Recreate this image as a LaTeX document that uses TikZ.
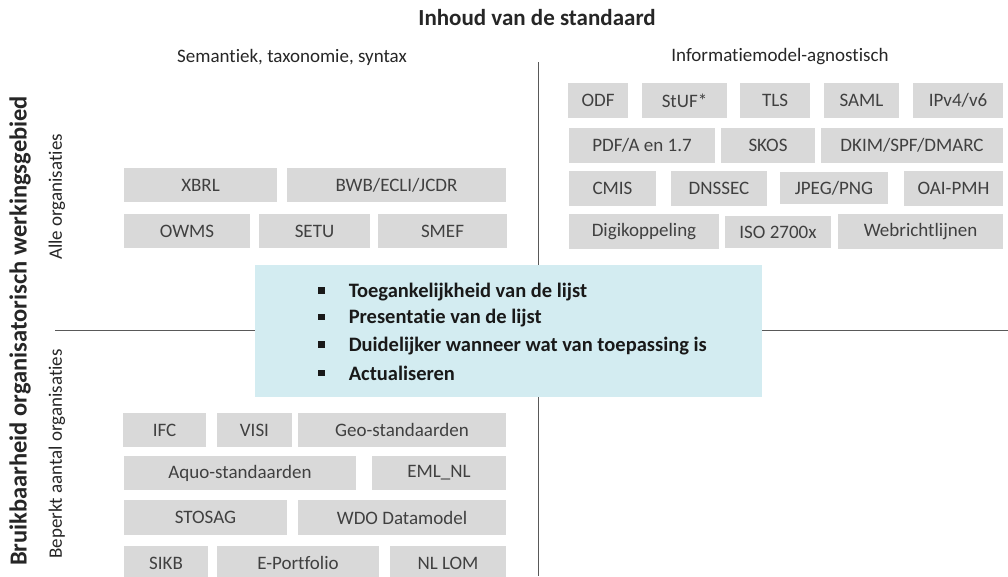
\documentclass[tikz,border=0pt]{standalone}
\usepackage{fontspec}
\setmainfont{Carlito}[Ligatures={NoCommon,NoDiscretionary,NoContextual}]
\definecolor{boxgray}{HTML}{D9D9D9}
\definecolor{boxtext}{HTML}{404040}
\definecolor{headtext}{HTML}{262626}
\definecolor{lightblue}{HTML}{D3ECF1}
\definecolor{linegray}{HTML}{595959}
\tikzset{
  gbox/.style={fill=boxgray, draw=none, inner sep=0pt, text=boxtext, font=\fontsize{19}{22}\selectfont},
  headbold/.style={text=headtext, font=\bfseries\fontsize{23}{26}\selectfont, inner sep=0pt},
  sidebold/.style={text=headtext, font=\bfseries\fontsize{24.5}{28}\selectfont, inner sep=0pt},
  headnorm/.style={text=headtext, font=\fontsize{19}{22}\selectfont, inner sep=0pt},
  axis/.style={draw=linegray, line width=1pt},
  bluebox/.style={fill=lightblue, draw=none, inner sep=0pt},
  bullettext/.style={text=black!90, font=\bfseries\fontsize{20.5}{24}\selectfont, inner sep=0pt, anchor=west},
}
\newcommand{\gb}[6]{\node[gbox, minimum width={(#3-#2)*1pt}, minimum height={(#5-#4)*1pt}] (#1) at ({(#2+#3)/2},{(#4+#5)/2}) {#6};}
\newcommand{\sqbul}{\rule[0.18em]{0.32em}{0.32em}}
\begin{document}
\begin{tikzpicture}[x=1pt,y=-1pt]
\useasboundingbox (0,0) rectangle (1008,576);
% axes
\coordinate (vtop) at (538,62);
\coordinate (vbot) at (538,576);
\coordinate (hleft) at (55,330);
\coordinate (hright) at (1008,330);
\draw[axis] (vtop) -- (vbot);
\draw[axis] (hleft) -- (hright);
% headings
\node[headbold] (title) at (537,18) {Inhoud van de standaard};
\node[headnorm] (sem) at (292,57) {Semantiek, taxonomie, syntax};
\node[headnorm] (info) at (780,57) {Informatiemodel-agnostisch};
\node[sidebold, rotate=90] (bruik) at (20,331) {Bruikbaarheid organisatorisch werkingsgebied};
\node[headnorm, rotate=90] (alle) at (57,197) {Alle organisaties};
\node[headnorm, rotate=90] (beperkt) at (57,454) {Beperkt aantal organisaties};
% top-left
\gb{xbrl}{124}{277}{168}{202}{XBRL}
\gb{bwb}{287}{506}{168}{202}{BWB/ECLI/JCDR}
\gb{owms}{124}{250}{214}{248}{OWMS}
\gb{setu}{259}{370}{214}{248}{SETU}
\gb{smef}{378}{507}{214}{248}{SMEF}
% top-right
\gb{odf}{568}{628}{83}{118}{ODF}
\gb{stuf}{642}{727}{83}{118}{StUF*}
\gb{tls}{740}{810}{83}{118}{TLS}
\gb{saml}{824}{899}{83}{118}{SAML}
\gb{ipv}{913}{1003}{83}{118}{IPv4/v6}
\gb{pdfa}{569}{715}{128}{163}{PDF/A en 1.7}
\gb{skos}{721}{815}{128}{163}{SKOS}
\gb{dkim}{821}{1003}{128}{163}{DKIM/SPF/DMARC}
\gb{cmis}{569}{656}{171}{206}{CMIS}
\gb{dnssec}{671}{767}{171}{206}{DNSSEC}
\gb{jpeg}{780}{888}{172}{204}{\raisebox{-3pt}{JPEG/PNG}}
\gb{oai}{904}{1003}{171}{206}{OAI-PMH}
\gb{digi}{569}{719}{214}{249}{Digikoppeling}
\gb{iso}{725}{831}{216}{248}{ISO 2700x}
\gb{web}{838}{1003}{214}{249}{Webrichtlijnen}
% bottom-left
\gb{ifc}{123}{206}{413}{447}{IFC}
\gb{visi}{217}{292}{413}{447}{VISI}
\gb{geo}{298}{506}{413}{447}{Geo-standaarden}
\gb{aquo}{124}{356}{456}{490}{Aquo-standaarden}
\gb{eml}{372}{506}{456}{490}{EML\_NL}
\gb{stosag}{124}{287}{500}{535}{STOSAG}
\gb{wdo}{298}{506}{500}{535}{WDO Datamodel}
\gb{sikb}{124}{208}{546}{580}{SIKB}
\gb{eport}{217}{379}{546}{580}{E-Portfolio}
\gb{nllom}{390}{506}{546}{580}{NL LOM}
% central box
\node[bluebox, minimum width=507pt, minimum height=132pt] (center) at (508.5,331) {};
\node[bullettext] (l1) at (318,292) {\sqbul\hspace{24pt}Toegankelijkheid van de lijst};
\node[bullettext] (l2) at (318,318.5) {\sqbul\hspace{24pt}Presentatie van de lijst};
\node[bullettext] (l3) at (318,346) {\sqbul\hspace{24pt}Duidelijker wanneer wat van toepassing is};
\node[bullettext] (l4) at (318,373) {\sqbul\hspace{24pt}Actualiseren};
\end{tikzpicture}
\end{document}
